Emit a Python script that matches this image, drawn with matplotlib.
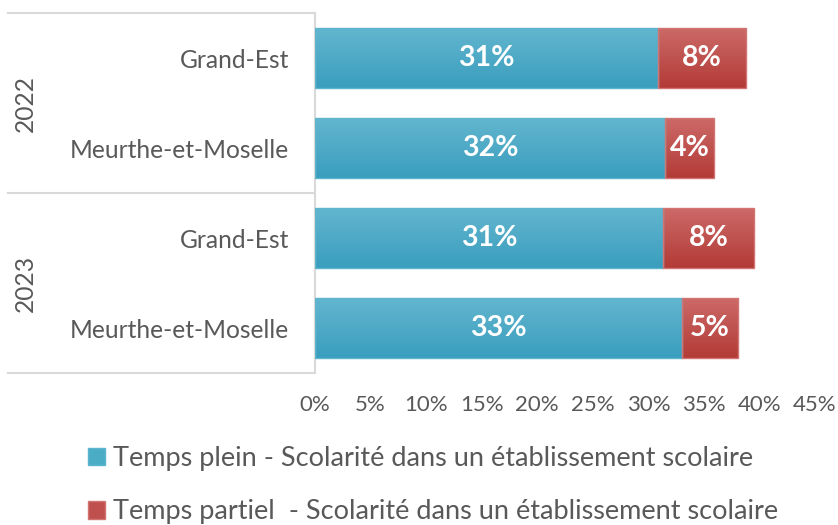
import matplotlib.pyplot as plt
import matplotlib.transforms as mtransforms
import numpy as np
from matplotlib.colors import LinearSegmentedColormap
from matplotlib.patches import Patch

plt.rcParams['font.family'] = ['Lato', 'DejaVu Sans']

# data, rows listed top to bottom
years = ['2022', '2023']
regions = ['Grand-Est', 'Meurthe-et-Moselle', 'Grand-Est', 'Meurthe-et-Moselle']
plein = [30.9, 31.5, 31.3, 33.0]
partiel = [7.9, 4.4, 8.2, 5.1]
plein_labels = ['31%', '32%', '31%', '33%']
partiel_labels = ['8%', '4%', '8%', '5%']
xticks = [0, 5, 10, 15, 20, 25, 30, 35, 40, 45]
series = ['Temps plein - Scolarité dans un établissement scolaire',
          'Temps partiel  - Scolarité dans un établissement scolaire']

grey = '#595959'
line_grey = '#d9d9d9'


def fill_gradient(ax, bars, top, bottom):
    # vertical gradient clipped to each bar
    cmap = LinearSegmentedColormap.from_list('g', [bottom, top])
    grad = np.linspace(0, 1, 64).reshape(-1, 1)
    for b in bars:
        x, y, w, h = b.get_x(), b.get_y(), b.get_width(), b.get_height()
        im = ax.imshow(grad, cmap=cmap, extent=[x, x + w, y, y + h],
                       origin='lower', aspect='auto', zorder=2)
        im.set_clip_path(b)


fig = plt.figure(figsize=(8.38, 5.25), dpi=100)
ax = fig.add_axes([315 / 838, 152 / 525, 500 / 838, 360 / 525])

y = np.arange(len(regions))[::-1]
h = 0.667
b1 = ax.barh(y, plein, h, facecolor='none', edgecolor='#5db4cd', linewidth=1, zorder=3)
b2 = ax.barh(y, partiel, h, left=plein, facecolor='none', edgecolor='#d27472', linewidth=1, zorder=3)
fill_gradient(ax, b1, '#63b6cf', '#3a9ebe')
fill_gradient(ax, b2, '#cc6a68', '#b33b37')

ax.bar_label(b1, labels=plein_labels, label_type='center', color='white',
             fontweight='bold', fontsize=20.5)
ax.bar_label(b2, labels=partiel_labels, label_type='center', color='white',
             fontweight='bold', fontsize=20.5)

ax.set_xlim(0, 45)
ax.set_ylim(-0.5, len(regions) - 0.5)
ax.set_xticks(xticks, [f'{t}%' for t in xticks])
ax.set_yticks(y, regions)
ax.tick_params(axis='x', length=0, pad=16, labelsize=16, labelcolor=grey)
ax.tick_params(axis='y', length=0, pad=18.5, labelsize=17.7, labelcolor=grey)

for s in ['top', 'right', 'bottom']:
    ax.spines[s].set_visible(False)
ax.spines['left'].set_color(line_grey)
ax.spines['left'].set_linewidth(1.5)

# year grouping
trans = mtransforms.blended_transform_factory(ax.transAxes, ax.transData)
for k in range(len(years) + 1):
    yy = len(regions) - 0.5 - 2 * k
    ax.plot([-0.614, 0], [yy, yy], color=line_grey, lw=1.5, transform=trans, clip_on=False)
for k, yr in enumerate(years):
    ax.text(-0.58, len(regions) - 1.5 - 2 * k, yr, rotation=90, transform=trans,
            ha='center', va='center', fontsize=17.7, color=grey)

handles = [Patch(facecolor='#4bacc6', edgecolor='#5db4cd'),
           Patch(facecolor='#c0504d', edgecolor='#d27472')]
fig.legend(handles, series, loc='upper left', bbox_to_anchor=(88 / 838, 1 - 446 / 525),
           frameon=False, fontsize=19.5, labelcolor=grey, handlelength=0.63, handleheight=0.63,
           handletextpad=0.3, labelspacing=1.05, borderpad=0, borderaxespad=0)

fig.savefig('out.png', dpi=100)
